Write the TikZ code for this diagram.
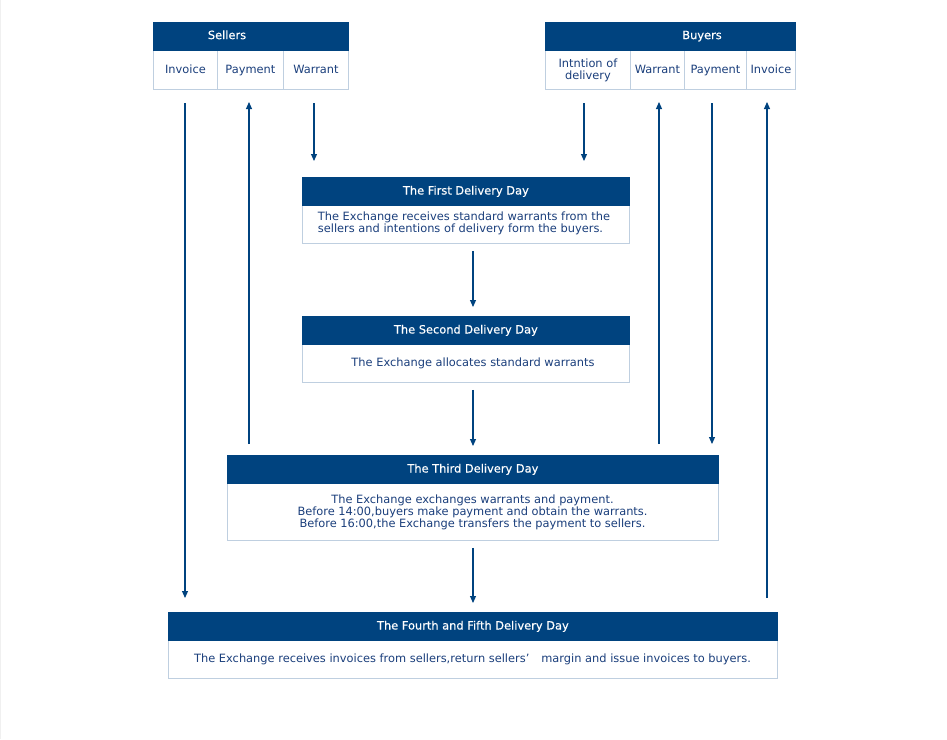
\documentclass[tikz,border=0pt]{standalone}
\usepackage{fontspec}
\setmainfont{DejaVu Sans}
\newfontfamily\hdrfont[FakeBold=0.35]{DejaVu Sans}
\usetikzlibrary{arrows.meta}
\definecolor{hdrblue}{HTML}{00437F}
\definecolor{txtblue}{HTML}{1B3F7C}
\definecolor{bordercol}{HTML}{BFCFE0}
\tikzset{
  hdr/.style={fill=hdrblue, draw=hdrblue, line width=0.8pt, text=white, anchor=north west, inner sep=0pt, minimum height=28, text height=8.6pt, text depth=2.4pt, font=\hdrfont\fontsize{11.4}{13}\selectfont},
  bodybox/.style={draw=bordercol, fill=white, line width=0.9pt, text=txtblue, anchor=north west, inner sep=0pt, align=center},
  celltxt/.style={text=txtblue, font=\fontsize{11.4}{12}\selectfont, align=center, inner sep=0pt},
  onel/.style={text height=8.6pt, text depth=2.4pt},
  hdrtxt/.style={text=white, font=\hdrfont\fontsize{11.4}{13}\selectfont, inner sep=0pt, text height=8.6pt, text depth=2.4pt},
  arr/.style={draw=hdrblue, line width=1.1pt, -{Triangle[length=7pt,width=6pt]}}
}
\begin{document}
\begin{tikzpicture}[x=1pt,y=-1pt]
\useasboundingbox (0,0) rectangle (947,739);
\draw[color=black!6, line width=1pt] (0.5,0) -- (0.5,739);
% Sellers table
\node[bodybox, minimum width=64, minimum height=39] (sinv) at (153,50) {};
\node[bodybox, minimum width=66, minimum height=39] (spay) at (217,50) {};
\node[bodybox, minimum width=65, minimum height=39] (swar) at (283,50) {};
\node[hdr, minimum width=195] (shdr) at (153,22) {};
\node[hdrtxt] (stxt) at (227,36) {Sellers};
\node[celltxt, onel] at (sinv.center) {Invoice};
\node[celltxt, onel] at (spay.center) {Payment};
\node[celltxt, onel] at (swar.center) {Warrant};
% Buyers table
\node[bodybox, minimum width=85, minimum height=39] (bint) at (545,50) {};
\node[bodybox, minimum width=54, minimum height=39] (bwar) at (630,50) {};
\node[bodybox, minimum width=62, minimum height=39] (bpay) at (684,50) {};
\node[bodybox, minimum width=49, minimum height=39] (binv) at (746,50) {};
\node[hdr, minimum width=250] (bhdr) at (545,22) {};
\node[hdrtxt] (btxt) at (702,36) {Buyers};
\node[celltxt] at ([yshift=-0.5]bint.center) {Intntion of\\delivery};
\node[celltxt, onel] at (bwar.center) {Warrant};
\node[celltxt, onel] at (bpay.center) {Payment};
\node[celltxt, onel] at (binv.center) {Invoice};
% First day
\node[bodybox, minimum width=327, minimum height=66] (d1) at (302,177) {};
\node[hdr, minimum width=327] (d1h) at (302,177) {The First Delivery Day};
\node[celltxt, align=left] at (464,223.5) {The Exchange receives standard warrants from the\\sellers and intentions of delivery form the buyers.};
% Second day
\node[bodybox, minimum width=327, minimum height=66] (d2) at (302,316) {};
\node[hdr, minimum width=327] (d2h) at (302,316) {The Second Delivery Day};
\node[celltxt, onel] at (473,363) {The Exchange allocates standard warrants};
% Third day
\node[bodybox, minimum width=491, minimum height=85] (d3) at (227,455) {};
\node[hdr, minimum width=491] (d3h) at (227,455) {The Third Delivery Day};
\node[celltxt] at (472.5,512) {The Exchange exchanges warrants and payment.\\Before 14:00,buyers make payment and obtain the warrants.\\Before 16:00,the Exchange transfers the payment to sellers.};
% Fourth/fifth day
\node[bodybox, minimum width=609, minimum height=66] (d4) at (168,612) {};
\node[hdr, minimum width=609] (d4h) at (168,612) {The Fourth and Fifth Delivery Day};
\node[celltxt, onel] at (472.5,659) {The Exchange receives invoices from sellers,return sellers’\hspace{12pt}margin and issue invoices to buyers.};
% coordinates for arrow ends
\coordinate (a1s) at (185,103); \coordinate (a1e) at (185,598);
\coordinate (a2s) at (249,444); \coordinate (a2e) at (249,102);
\coordinate (a3s) at (314,103); \coordinate (a3e) at (314,161);
\coordinate (a4s) at (584,103); \coordinate (a4e) at (584,161);
\coordinate (a5s) at (659,444); \coordinate (a5e) at (659,102);
\coordinate (a6s) at (712,103); \coordinate (a6e) at (712,444);
\coordinate (a7s) at (767,598); \coordinate (a7e) at (767,102);
\draw[arr] (a1s) -- (a1e);
\draw[arr] (a2s) -- (a2e);
\draw[arr] (a3s) -- (a3e);
\draw[arr] (a4s) -- (a4e);
\draw[arr] (a5s) -- (a5e);
\draw[arr] (a6s) -- (a6e);
\draw[arr] (a7s) -- (a7e);
\draw[arr] ([yshift=-7]d1.south -| 473,0) -- ([yshift=9]d2h.north -| 473,0);
\draw[arr] ([yshift=-7]d2.south -| 473,0) -- ([yshift=9]d3h.north -| 473,0);
\draw[arr] ([yshift=-7]d3.south -| 473,0) -- ([yshift=9]d4h.north -| 473,0);
\end{tikzpicture}
\end{document}
